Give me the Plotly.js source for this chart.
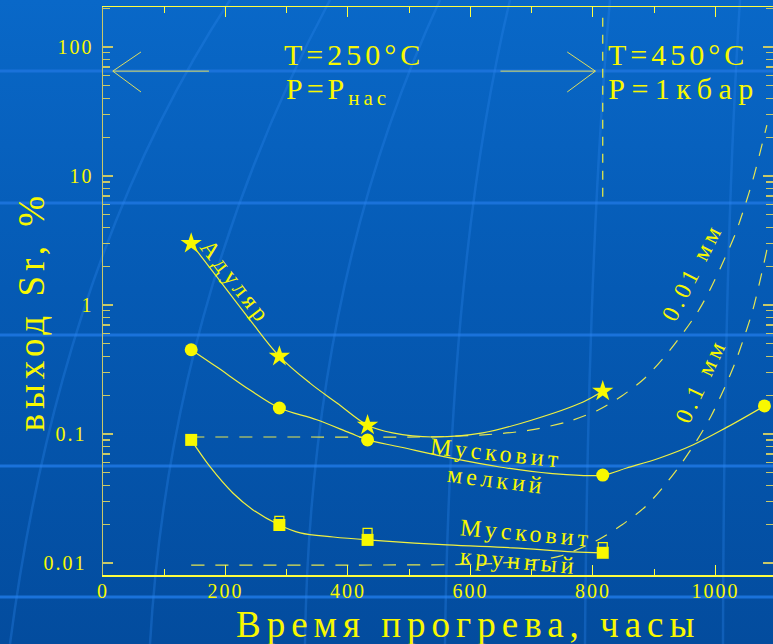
<!DOCTYPE html>
<html>
<head>
<meta charset="utf-8">
<script src="https://cdn.plot.ly/plotly-3.0.1.min.js"></script>
<style>
  html, body { margin: 0; padding: 0; }
  body { width: 773px; height: 644px; overflow: hidden;
         background: linear-gradient(to bottom, #0968c8 0%, #055ab4 45%, #034c9e 100%); }
  #chart { width: 773px; height: 644px; }
  .xtick text, .ytick text { letter-spacing: 2px; }
  .annotation text { letter-spacing: 4px; }
  .annotation[data-index="0"] text { letter-spacing: 6px; }
  .annotation[data-index="1"] text { letter-spacing: 5px; }
  .annotation[data-index="5"] text { letter-spacing: 6.5px; }
</style>
</head>
<body>
<div id="chart"></div>
<script>
// ---- data ----
const xTickVals = [0, 200, 400, 600, 800, 1000];
const yTickVals = [0.01, 0.1, 1, 10, 100];
const yTickText = ['0.01\u00a0', '0.1\u00a0', '1', '10', '100'];

// measured points
const adularX = [144, 288, 432, 816];
const adularY = [3.0, 0.40, 0.117, 0.215];
const fineX = [144, 288, 432, 816, 1080];
const fineY = [0.45, 0.159, 0.090, 0.048, 0.165];
const coarseX = [144, 288, 432, 816];
const coarseY = [0.090, 0.0197, 0.0151, 0.0120];
const coarseOpenX = [288, 432, 816];
const coarseOpenY = [0.0212, 0.0171, 0.0133];

// hand-drawn fit curves
const adularFitX = [144, 186, 240, 288, 338, 382, 432, 473, 539, 620, 702, 784, 816];
const adularFitY = [3.0, 1.65, 0.766, 0.40, 0.248, 0.174, 0.117, 0.102, 0.0948, 0.102, 0.129, 0.177, 0.215];
const fineFitX = [144, 186, 240, 288, 349, 403, 432, 485, 567, 648, 730, 816, 855, 909, 963, 1019, 1080];
const fineFitY = [0.45, 0.330, 0.219, 0.159, 0.129, 0.102, 0.090, 0.0793, 0.0652, 0.0555, 0.0495, 0.048, 0.0545, 0.0652, 0.0822, 0.113, 0.165];
const coarseFitX = [144, 175, 212, 245, 288, 322, 376, 432, 562, 669, 767, 816];
const coarseFitY = [0.090, 0.0555, 0.0349, 0.0258, 0.0197, 0.0171, 0.0159, 0.0151, 0.0138, 0.0131, 0.0122, 0.0120];

// model curves (dashed) for grain size 0.01 mm and 0.1 mm
const mm001X = [144, 322, 517, 615, 697, 762, 808, 847, 885, 926, 970, 991, 1014, 1033, 1048, 1061, 1073, 1084];
const mm001Y = [0.0948, 0.0948, 0.0948, 0.098, 0.107, 0.126, 0.153, 0.197, 0.272, 0.448, 0.867, 1.31, 2.23, 3.61, 5.85, 9.3, 15.3, 24.8];
const mm01X = [144, 403, 615, 697, 746, 808, 847, 885, 916, 945, 970, 993, 1014, 1032, 1047, 1061, 1073, 1084];
const mm01Y = [0.00964, 0.00964, 0.0098, 0.0104, 0.0113, 0.0151, 0.0197, 0.0272, 0.0395, 0.0596, 0.0897, 0.138, 0.223, 0.355, 0.565, 0.914, 1.56, 2.67];

// regime boundary and arrows
const boundaryX = [816, 816];
const boundaryY = [6.9, 171];
const arrowsX = [16, 173, null, 62, 16, 62, null, 649, 804, null, 758, 804, 758];
const arrowsY = [65, 65, null, 91.5, 65, 44.8, null, 65, 65, null, 91.5, 65, 44.8];

// ---- styling ----
const YEL = '#f8f800';
const LINE = '#f0f040';
const DASH = '#e6e650';
const SERIF = '"Liberation Serif", "DejaVu Serif", serif';

const traces = [
  {x: arrowsX, y: arrowsY, mode: 'lines', line: {color: '#dede60', width: 1}, hoverinfo: 'skip'},
  {x: boundaryX, y: boundaryY, mode: 'lines', line: {color: '#f0f040', width: 1.2, dash: '9px,8px'}, hoverinfo: 'skip'},
  {x: mm001X, y: mm001Y, mode: 'lines', line: {color: DASH, width: 1.2, dash: '13px,11px', shape: 'spline', smoothing: 0.8}},
  {x: mm01X, y: mm01Y, mode: 'lines', line: {color: DASH, width: 1.2, dash: '13px,11px', shape: 'spline', smoothing: 0.8}},
  {x: adularFitX, y: adularFitY, mode: 'lines', line: {color: LINE, width: 1.2, shape: 'spline', smoothing: 1}},
  {x: fineFitX, y: fineFitY, mode: 'lines', line: {color: LINE, width: 1.2, shape: 'spline', smoothing: 1}},
  {x: coarseFitX, y: coarseFitY, mode: 'lines', line: {color: LINE, width: 1.2, shape: 'spline', smoothing: 1}},
  {x: coarseOpenX, y: coarseOpenY, mode: 'markers', marker: {symbol: 'square-open', size: 9, color: YEL, line: {width: 1.2}}},
  {x: adularX, y: adularY, mode: 'markers', marker: {symbol: 'star', size: 16, color: YEL, line: {width: 0}}},
  {x: fineX, y: fineY, mode: 'markers', marker: {symbol: 'circle', size: 13, color: YEL, line: {width: 0}}},
  {x: coarseX, y: coarseY, mode: 'markers', marker: {symbol: 'square', size: 12, color: YEL, line: {width: 0}}}
];

// minor ticks on the log axis
const yMinor = [];
[0.01, 0.1, 1, 10, 100].forEach(d => { for (let k = 2; k <= 9; k++) yMinor.push(d * k); });

// background stripes & faint arcs (decoration, pixel-based paper coordinates)
const plotL = 103, plotR = 773, plotT = 7, plotB = 575;
const px = v => (v - plotL) / (plotR - plotL);
const py = v => (plotB - v) / (plotB - plotT);
const shapes = [];
[71, 203, 335, 466, 597].forEach(s => shapes.push({
  type: 'line', xref: 'paper', yref: 'paper', x0: px(0), x1: px(773), y0: py(s), y1: py(s),
  line: {color: '#1a72da', width: 3}, layer: 'below'
}));
// quadratic arcs: start, control, end
const arcs = [
  [[10, 644], [60, 260], [230, 0]],
  [[150, 644], [170, 300], [330, 0]],
  [[305, 644], [310, 280], [440, 0]],
  [[445, 644], [450, 250], [510, 0]],
  [[585, 644], [588, 250], [610, 0]],
  [[723, 644], [724, 250], [740, 0]]
];
arcs.forEach(a => {
  const p = 'M' + px(a[0][0]) + ',' + py(a[0][1]) +
            ' Q' + px(a[1][0]) + ',' + py(a[1][1]) + ' ' + px(a[2][0]) + ',' + py(a[2][1]);
  shapes.push({type: 'path', xref: 'paper', yref: 'paper', path: p, line: {color: 'rgba(45,135,235,0.32)', width: 2.5}, layer: 'below'});
});

const txt = (text, x, ly, size, extra) => Object.assign({
  text: text, x: x, y: ly, xref: 'x', yref: 'y', showarrow: false,
  font: {family: SERIF, size: size, color: YEL}
}, extra || {});

const annotations = [
  // axis titles
  {text: 'Время прогрева, часы', xref: 'paper', yref: 'paper', x: px(468), y: py(624), showarrow: false,
   font: {family: SERIF, size: 37, color: YEL}, xanchor: 'center', yanchor: 'middle'},
  {text: 'выход Sr, %', xref: 'paper', yref: 'paper', x: px(31), y: py(311), showarrow: false, textangle: -90,
   font: {family: SERIF, size: 37, color: YEL}, xanchor: 'center', yanchor: 'middle'},
  // regime texts
  txt('T=250°C', 410, 1.938, 30),
  txt('P=P<sub>нас</sub>', 384, 1.66, 30),
  txt('T=450°C', 939, 1.938, 30),
  txt('P=1кбар', 949, 1.682, 30),
  // curve labels
  txt('Адуляр', 217, 0.178, 24, {textangle: 52}),
  txt('Мусковит', 643, -1.147, 24, {textangle: 6}),
  txt('мелкий', 643, -1.357, 24, {textangle: 7}),
  txt('Мусковит', 691, -1.767, 24, {textangle: 5}),
  txt('крунный', 679, -1.984, 24, {textangle: 5}),
  txt('0.01 мм', 962, 0.256, 24, {textangle: -63}),
  txt('0.1 мм', 976, -0.589, 24, {textangle: -65})
];

const layout = {
  width: 773, height: 644,
  margin: {l: plotL, r: 773 - plotR, t: plotT, b: 644 - plotB},
  paper_bgcolor: 'rgba(0,0,0,0)', plot_bgcolor: 'rgba(0,0,0,0)',
  showlegend: false,
  font: {family: SERIF, color: YEL},
  xaxis: {
    range: [0, 1094], tickvals: xTickVals, showgrid: false, zeroline: false,
    showline: true, linecolor: '#ffff40', linewidth: 1.5, mirror: 'ticks',
    ticks: 'inside', ticklen: 10, tickwidth: 1, tickcolor: '#ffff40',
    minor: {dtick: 100, ticks: 'inside', ticklen: 6, tickcolor: '#ffff40', showgrid: false},
    tickfont: {family: SERIF, size: 20, color: YEL}, ticklabelstandoff: -3
  },
  yaxis: {
    type: 'log', range: [-2.093, 2.31], tickmode: 'array', tickvals: yTickVals, ticktext: yTickText,
    showgrid: false, zeroline: false,
    showline: true, linecolor: '#c8c868', linewidth: 1.5, mirror: 'ticks',
    ticks: 'inside', ticklen: 10, tickwidth: 1.2, tickcolor: '#c8c868',
    minor: {tickmode: 'array', tickvals: yMinor, ticks: 'inside', ticklen: 7, tickcolor: '#c8c868', showgrid: false},
    tickfont: {family: SERIF, size: 20, color: YEL}, ticklabelstandoff: 4
  },
  shapes: shapes,
  annotations: annotations
};

Plotly.newPlot('chart', traces, layout, {displayModeBar: false, staticPlot: true});
</script>
</body>
</html>
